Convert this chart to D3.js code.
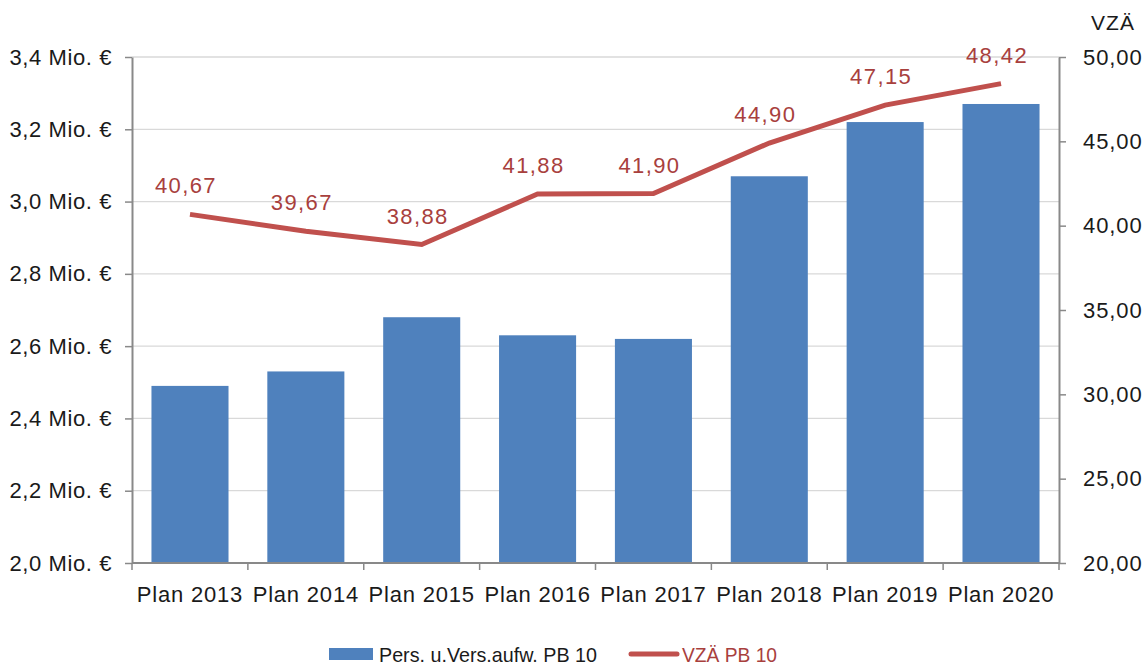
<!DOCTYPE html>
<html><head><meta charset="utf-8">
<script src="https://cdn.jsdelivr.net/npm/d3@7"></script>
<style>body{margin:0;background:#fff}svg{display:block;font-family:"Liberation Sans",Arial,sans-serif}</style>
</head><body>
<svg id="c" width="1148" height="668"></svg>
<script>
const categories = ["Plan 2013","Plan 2014","Plan 2015","Plan 2016","Plan 2017","Plan 2018","Plan 2019","Plan 2020"];
const costs = [2.49, 2.53, 2.68, 2.63, 2.62, 3.07, 3.22, 3.27];
const vza = [40.67, 39.67, 38.88, 41.88, 41.90, 44.90, 47.15, 48.42];
const leftTicks = [2.0, 2.2, 2.4, 2.6, 2.8, 3.0, 3.2, 3.4];
const rightTicks = [20, 25, 30, 35, 40, 45, 50];
const seriesNames = ["Pers. u.Vers.aufw. PB 10", "VZÄ PB 10"];
const rightTitle = "VZÄ";

const svg = d3.select("#c");
const L = 132, R = 1059, T = 57, B = 563;
const fs = 22;
const x = d3.scaleBand().domain(categories).range([L, R]).paddingInner(0.335).paddingOuter(0.168);
const xb = d3.scaleBand().domain(categories).range([L, R]);
const yL = d3.scaleLinear().domain([2.0, 3.4]).range([B, T]);
const yR = d3.scaleLinear().domain([20, 50]).range([B, T]);
const fmtL = v => d3.format(".1f")(v).replace(".", ",") + " Mio. €";
const fmtR = v => d3.format(".2f")(v).replace(".", ",");

// grid
svg.append("g").selectAll("line").data(leftTicks.slice(1)).join("line")
  .attr("x1", L).attr("x2", R).attr("y1", d => yL(d)).attr("y2", d => yL(d))
  .attr("stroke", "#d9d9d9").attr("stroke-width", 1.3);

// bars
svg.append("g").selectAll("rect").data(costs).join("rect")
  .attr("x", (d, i) => x(categories[i])).attr("width", x.bandwidth())
  .attr("y", d => yL(d)).attr("height", d => B - yL(d)).attr("fill", "#4f81bd");

// axes
const axisStyle = ls => g => {
  g.select(".domain").attr("stroke", "#898989").attr("stroke-width", 2);
  g.selectAll(".tick line").attr("stroke", "#898989").attr("stroke-width", 1.5);
  g.selectAll("text").attr("fill", "#1a1a1a").style("font-size", fs + "px")
    .style("letter-spacing", ls + "px")
    .style("font-family", '"Liberation Sans",Arial,sans-serif');
};
svg.append("g").attr("transform", `translate(${L},0)`)
  .call(d3.axisLeft(yL).tickValues(leftTicks).tickFormat(fmtL).tickSize(7).tickSizeOuter(0).tickPadding(13))
  .call(axisStyle(0.6));
svg.append("g").attr("transform", `translate(${R},0)`)
  .call(d3.axisRight(yR).tickValues(rightTicks).tickFormat(fmtR).tickSize(7).tickSizeOuter(0).tickPadding(17))
  .call(axisStyle(0.9));
const xAxis = svg.append("g").attr("transform", `translate(0,${B})`)
  .call(d3.axisBottom(xb).tickSize(0).tickPadding(23))
  .call(axisStyle(0.8));
xAxis.select(".domain").attr("d", `M${L},0H${R}`);
// category boundary ticks
svg.append("g").selectAll("line").data(categories.map((c, i) => xb(c)).concat([R])).join("line")
  .attr("x1", d => d).attr("x2", d => d).attr("y1", B).attr("y2", B + 7)
  .attr("stroke", "#898989").attr("stroke-width", 1.5);

// line
const cx = i => x(categories[i]) + x.bandwidth() / 2;
svg.append("path").datum(vza)
  .attr("d", d3.line().x((d, i) => cx(i)).y(d => yR(d)))
  .attr("fill", "none").attr("stroke", "#c0504d").attr("stroke-width", 5);

svg.append("g").selectAll("text").data(vza).join("text")
  .attr("x", (d, i) => cx(i) - 4).attr("y", d => yR(d) - 21)
  .attr("text-anchor", "middle").attr("fill", "#a8403d").style("font-size", fs + "px")
  .style("letter-spacing", "1.4px")
  .text(d => fmtR(d));

// right title
svg.append("text").attr("x", 1113).attr("y", 30).attr("text-anchor", "middle")
  .attr("fill", "#1a1a1a").style("font-size", "21px").style("letter-spacing", "1px").text(rightTitle);

// legend
const lg = svg.append("g");
lg.append("rect").attr("x", 329).attr("y", 648).attr("width", 44).attr("height", 12).attr("fill", "#4f81bd");
lg.append("text").attr("x", 379).attr("y", 662).attr("fill", "#1a1a1a").style("font-size", "21px")
  .attr("textLength", 218).attr("lengthAdjust", "spacingAndGlyphs").text(seriesNames[0]);
lg.append("line").attr("x1", 631).attr("x2", 677).attr("y1", 654).attr("y2", 654)
  .attr("stroke", "#c0504d").attr("stroke-width", 5).attr("stroke-linecap", "round");
lg.append("text").attr("x", 682).attr("y", 662).attr("fill", "#a8403d").style("font-size", "21px")
  .attr("textLength", 95).attr("lengthAdjust", "spacingAndGlyphs").text(seriesNames[1]);
</script>
</body></html>
